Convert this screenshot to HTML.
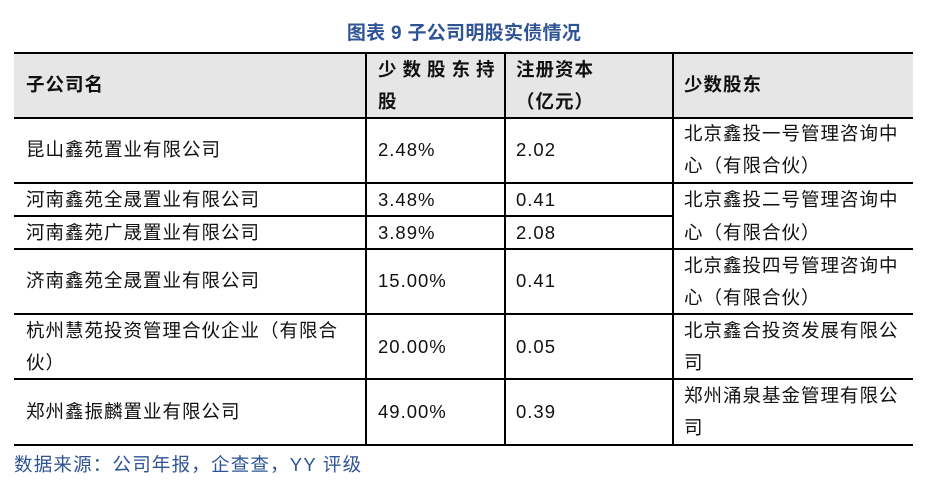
<!DOCTYPE html>
<html><head><meta charset="utf-8"><style>
body{margin:0;width:934px;height:485px;background:#fff;position:relative;overflow:hidden;font-family:"Liberation Sans","Noto Sans CJK SC",sans-serif;color:#111}
.a{position:absolute}
.h{background:#000;height:2px}
.v{background:#000;width:2px}
.t{position:absolute;font-size:18.5px;letter-spacing:1px;line-height:32px;white-space:nowrap}
.b{font-weight:bold}
</style></head><body>
<div class="a b" style="left:0;width:928px;top:22px;text-align:center;color:#2f5496;font-size:19px;line-height:24px;letter-spacing:0.3px">图表 9 子公司明股实债情况</div>
<div class="a" style="left:14px;top:53px;width:899px;height:64px;background:#e6e6e6"></div>
<div class="a h" style="left:14px;width:899px;top:52px"></div>
<div class="a h" style="left:14px;width:899px;top:117px"></div>
<div class="a h" style="left:14px;width:899px;top:182px"></div>
<div class="a h" style="left:14px;width:659px;top:215px"></div>
<div class="a h" style="left:14px;width:899px;top:248px"></div>
<div class="a h" style="left:14px;width:899px;top:313px"></div>
<div class="a h" style="left:14px;width:899px;top:378px"></div>
<div class="a h" style="left:14px;width:899px;top:444px"></div>
<div class="a v" style="left:365px;top:52px;height:394px"></div>
<div class="a v" style="left:504px;top:52px;height:394px"></div>
<div class="a v" style="left:672px;top:52px;height:394px"></div>

<div class="t b" style="left:26px;top:69px">子公司名</div>
<div class="t b" style="left:378px;top:54px;letter-spacing:6px">少数股东持</div>
<div class="t b" style="left:378px;top:86px">股</div>
<div class="t b" style="left:516px;top:54px">注册资本</div>
<div class="t b" style="left:516px;top:86px">（亿元）</div>
<div class="t b" style="left:684px;top:69px">少数股东</div>

<div class="t" style="left:26px;top:134px">昆山鑫苑置业有限公司</div>
<div class="t" style="left:378px;top:134px">2.48%</div>
<div class="t" style="left:516px;top:134px">2.02</div>
<div class="t" style="left:684px;top:118px">北京鑫投一号管理咨询中</div>
<div class="t" style="left:684px;top:150px">心（有限合伙）</div>

<div class="t" style="left:26px;top:184px">河南鑫苑全晟置业有限公司</div>
<div class="t" style="left:378px;top:184px">3.48%</div>
<div class="t" style="left:516px;top:184px">0.41</div>
<div class="t" style="left:26px;top:217px">河南鑫苑广晟置业有限公司</div>
<div class="t" style="left:378px;top:217px">3.89%</div>
<div class="t" style="left:516px;top:217px">2.08</div>
<div class="t" style="left:684px;top:184px">北京鑫投二号管理咨询中</div>
<div class="t" style="left:684px;top:217px">心（有限合伙）</div>

<div class="t" style="left:26px;top:265px">济南鑫苑全晟置业有限公司</div>
<div class="t" style="left:378px;top:265px">15.00%</div>
<div class="t" style="left:516px;top:265px">0.41</div>
<div class="t" style="left:684px;top:250px">北京鑫投四号管理咨询中</div>
<div class="t" style="left:684px;top:282px">心（有限合伙）</div>

<div class="t" style="left:26px;top:315px">杭州慧苑投资管理合伙企业（有限合</div>
<div class="t" style="left:26px;top:347px">伙）</div>
<div class="t" style="left:378px;top:331px">20.00%</div>
<div class="t" style="left:516px;top:331px">0.05</div>
<div class="t" style="left:684px;top:315px">北京鑫合投资发展有限公</div>
<div class="t" style="left:684px;top:347px">司</div>

<div class="t" style="left:26px;top:396px">郑州鑫振麟置业有限公司</div>
<div class="t" style="left:378px;top:396px">49.00%</div>
<div class="t" style="left:516px;top:396px">0.39</div>
<div class="t" style="left:684px;top:380px">郑州涌泉基金管理有限公</div>
<div class="t" style="left:684px;top:412px">司</div>

<div class="t" style="left:14px;top:449px;color:#2f5496;font-size:18.5px;letter-spacing:1.2px">数据来源：公司年报，企查查，YY 评级</div>
</body></html>
